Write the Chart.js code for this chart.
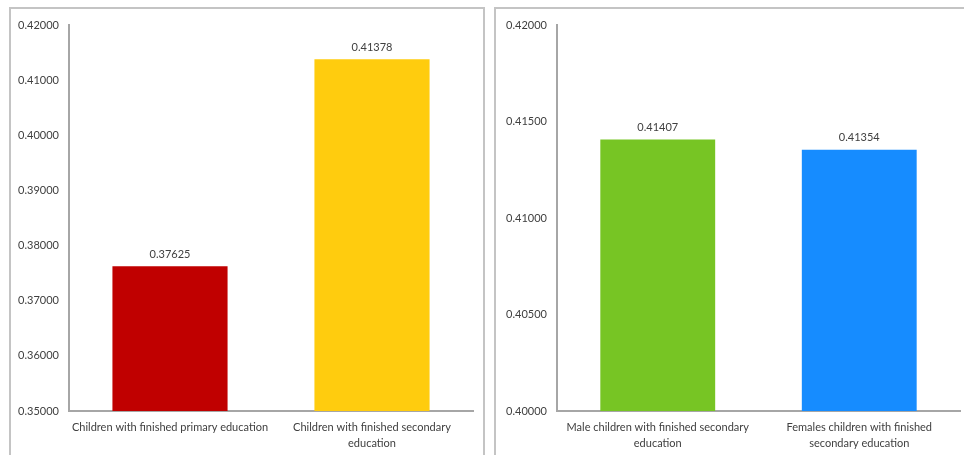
<!DOCTYPE html>
<html>
<head>
<meta charset="utf-8">
<script src="https://cdn.jsdelivr.net/npm/chart.js@4/dist/chart.umd.min.js"></script>
<style>
  body { margin: 0; background: #fff; width: 964px; height: 455px; overflow: hidden; position: relative; }
  .panel { position: absolute; border: 2px solid #c4c4c4; box-sizing: border-box; }
  .box { position: absolute; top: 0; height: 455px; }
  canvas { display: block; }
</style>
</head>
<body>
<div class="panel" style="left:9px; top:7px; width:476px; height:470px;"></div>
<div class="panel" style="left:494px; top:7px; width:480px; height:470px;"></div>
<div class="box" style="left:0; width:490px;"><canvas id="leftChart"></canvas></div>
<div class="box" style="left:490px; width:474px;"><canvas id="rightChart"></canvas></div>
<script>
// Left chart data
const leftLabels = [
    'Children with finished primary education',
    ['Children with finished secondary', 'education']
];
const leftValues = [0.37625, 0.41378];
const leftColors = ['#c00000', '#ffcc0e'];

// Right chart data
const rightLabels = [
    ['Male children with finished secondary', 'education'],
    ['Females children with finished', 'secondary education']
];
const rightValues = [0.41407, 0.41354];
const rightColors = ['#77c524', '#168cff'];

const textColor = '#404040';
const fontFamily = 'Lato, "Open Sans", sans-serif';

// value labels above bars
const valueLabels = {
    id: 'valueLabels',
    afterDatasetsDraw(chart) {
        const ctx = chart.ctx;
        const meta = chart.getDatasetMeta(0);
        ctx.save();
        ctx.font = '11px ' + fontFamily;
        ctx.fillStyle = textColor;
        ctx.textAlign = 'center';
        ctx.textBaseline = 'middle';
        meta.data.forEach((bar, i) => {
            const v = chart.data.datasets[0].data[i];
            ctx.fillText(v.toFixed(5), bar.x, bar.y - 12);
        });
        ctx.restore();
    }
};

function makeChart(id, labels, values, colors, min, max, step, yWidth, padRight) {
    const ctx = document.getElementById(id).getContext('2d');
    return new Chart(ctx, {
        type: 'bar',
        data: {
            labels: labels,
            datasets: [{
                data: values,
                backgroundColor: colors,
                categoryPercentage: 1,
                barPercentage: 0.57
            }]
        },
        options: {
            responsive: true,
            maintainAspectRatio: false,
            animation: false,
            devicePixelRatio: 1,
            layout: { padding: { top: 25, right: padRight, bottom: 0, left: 0 } },
            scales: {
                y: {
                    min: min,
                    max: max,
                    grid: { display: false, drawTicks: false },
                    border: { display: true, color: '#a6a6a6', width: 2 },
                    ticks: {
                        stepSize: step,
                        padding: 10,
                        color: textColor,
                        font: { family: fontFamily, size: 11 },
                        callback: v => Number(v).toFixed(5)
                    },
                    afterFit(scale) { scale.width = yWidth; }
                },
                x: {
                    grid: { display: false, drawTicks: false },
                    border: { display: true, color: '#a6a6a6', width: 2 },
                    ticks: {
                        padding: 9,
                        maxRotation: 0,
                        autoSkip: false,
                        color: textColor,
                        font: { family: fontFamily, size: 11, lineHeight: 1.4 }
                    },
                    afterFit(scale) { scale.height = 44; }
                }
            },
            plugins: {
                legend: { display: false },
                tooltip: { enabled: false }
            }
        },
        plugins: [valueLabels]
    });
}

makeChart('leftChart', leftLabels, leftValues, leftColors, 0.35, 0.42, 0.01, 69, 17);
makeChart('rightChart', rightLabels, rightValues, rightColors, 0.40, 0.42, 0.005, 67, 4);
</script>
</body>
</html>
